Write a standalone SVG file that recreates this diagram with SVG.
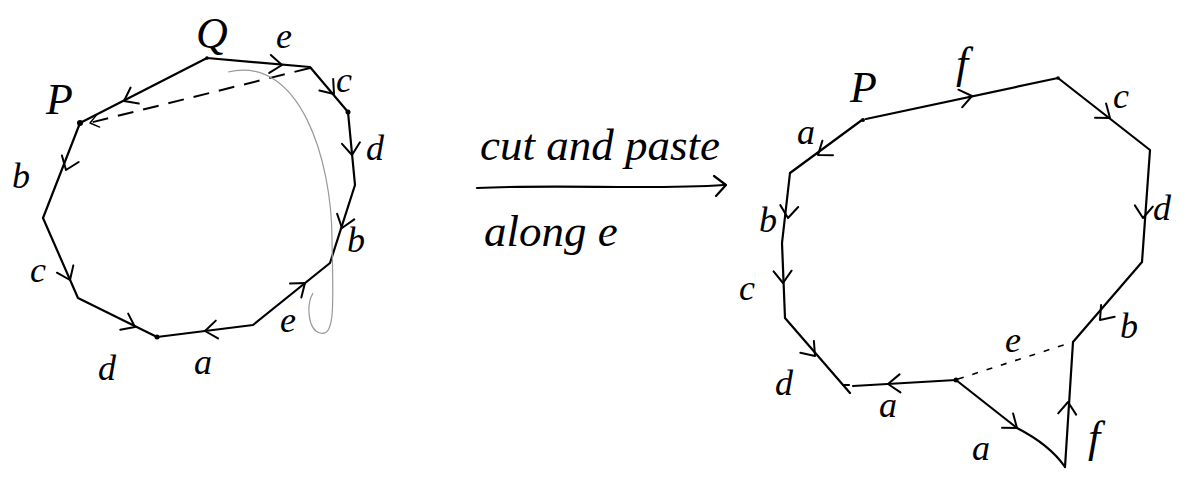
<svg xmlns="http://www.w3.org/2000/svg" width="1191" height="477" viewBox="0 0 1191 477">
<style>
.e{fill:none;stroke:#000;stroke-width:2.2;stroke-linecap:round;stroke-linejoin:round}
.ar{fill:none;stroke:#000;stroke-width:2;stroke-linecap:round;stroke-linejoin:round}
.ds{fill:none;stroke:#000;stroke-width:2;stroke-dasharray:16 10}
.dt{fill:none;stroke:#000;stroke-width:1.6;stroke-dasharray:6 9}
.gr{fill:none;stroke:#999;stroke-width:1.2}
.t{font-family:"Liberation Serif","DejaVu Serif",serif;font-style:italic;fill:#000}
.s{font-size:36px}
.L{font-size:44px}
.m{font-size:45px}
</style>
<defs>
<path id="chev" d="M-12,-9 L0,0 L-12,9"/>
</defs>
<rect width="1191" height="477" fill="#fff"/>

<g id="connectors">
<!-- left polygon -->
<polyline class="e" points="207,58 310,67 348,112 355,185 330,263 253,325 157,337 78,298 43,218 80,123 207,58"/>
<path class="ds" d="M310,68 L85,124"/>
<path class="gr" d="M228,72 C300,55 332,160 332,240 C333,300 336,338 320,333 C308,330 306,305 313,293"/>
<!-- middle arrow -->
<path class="e" d="M477,188 C560,184 650,190 724,185"/>
<path class="e" d="M714,176 L726,185 L716,196"/>
<!-- right polygon -->
<polyline class="e" points="790,173 862,120"/>
<polyline class="e" points="866,119 1058,78 1150,150 1142,262 1073,342 1065,467"/>
<path class="e" d="M956,380 L1017,428 Q1050,445 1065,467"/>
<path class="e" d="M956,380 L853,386"/>
<path class="e" d="M843,385 L849,385"/>
<polyline class="e" points="790,173 782,243 785,318 850,393"/>
<path class="dt" d="M958,379 L1073,342"/>
<!-- arrowheads left -->
<g class="ar">
<use href="#chev" transform="translate(282,65) rotate(5)"/>
<use href="#chev" transform="translate(334,94) rotate(50)"/>
<use href="#chev" transform="translate(352,155) rotate(85)"/>
<use href="#chev" transform="translate(342,228) rotate(108)"/>
<use href="#chev" transform="translate(305,283) rotate(-39)"/>
<use href="#chev" transform="translate(205,331) rotate(173)"/>
<use href="#chev" transform="translate(135,327) rotate(26)"/>
<use href="#chev" transform="translate(70,280) rotate(66)"/>
<use href="#chev" transform="translate(66,170) rotate(111)"/>
<use href="#chev" transform="translate(124,101) rotate(153)"/>
<use href="#chev" transform="translate(90,123) rotate(166) scale(0.7)"/>
</g>
<!-- arrowheads right -->
<g class="ar">
<use href="#chev" transform="translate(972,96) rotate(-12)"/>
<use href="#chev" transform="translate(1110,118) rotate(38)"/>
<use href="#chev" transform="translate(1143,218) rotate(94)"/>
<use href="#chev" transform="translate(1100,320) rotate(131)"/>
<use href="#chev" transform="translate(1068,402) rotate(-86)"/>
<use href="#chev" transform="translate(1017,428) rotate(38)"/>
<use href="#chev" transform="translate(888,384) rotate(177)"/>
<use href="#chev" transform="translate(815,356) rotate(49)"/>
<use href="#chev" transform="translate(783,283) rotate(88)"/>
<use href="#chev" transform="translate(788,218) rotate(96)"/>
<use href="#chev" transform="translate(818,155) rotate(144)"/>
</g>
</g>

<g id="left-polygon">
<circle cx="80" cy="123" r="3"/>
<circle cx="348" cy="112" r="2.5"/>
<circle cx="157" cy="337" r="2.5"/>
<circle cx="207" cy="58" r="1.8"/>
<text class="t L" x="196" y="48">Q</text>
<text class="t L" x="46" y="114">P</text>
<text class="t s" x="276" y="48">e</text>
<text class="t s" x="336" y="92">c</text>
<text class="t s" x="366" y="160">d</text>
<text class="t s" x="347" y="252">b</text>
<text class="t s" x="280" y="332">e</text>
<text class="t s" x="194" y="374">a</text>
<text class="t s" x="98" y="380">d</text>
<text class="t s" x="30" y="282">c</text>
<text class="t s" x="12" y="188">b</text>
</g>

<g id="middle-label">
<text class="t m" x="480" y="160">cut and paste</text>
<text class="t m" x="484" y="246">along e</text>
</g>

<g id="right-polygon">
<circle cx="863" cy="120" r="2"/>
<circle cx="1058" cy="78" r="1.8"/>
<circle cx="956" cy="380" r="2.5"/>
<text class="t L" x="850" y="102">P</text>
<text class="t L" x="956" y="78">f</text>
<text class="t s" x="1113" y="108">c</text>
<text class="t s" x="1153" y="220">d</text>
<text class="t s" x="1120" y="338">b</text>
<text class="t L" x="1088" y="452">f</text>
<text class="t s" x="1005" y="352">e</text>
<text class="t s" x="972" y="460">a</text>
<text class="t s" x="879" y="417">a</text>
<text class="t s" x="775" y="395">d</text>
<text class="t s" x="739" y="300">c</text>
<text class="t s" x="759" y="232">b</text>
<text class="t s" x="797" y="144">a</text>
</g>
</svg>
